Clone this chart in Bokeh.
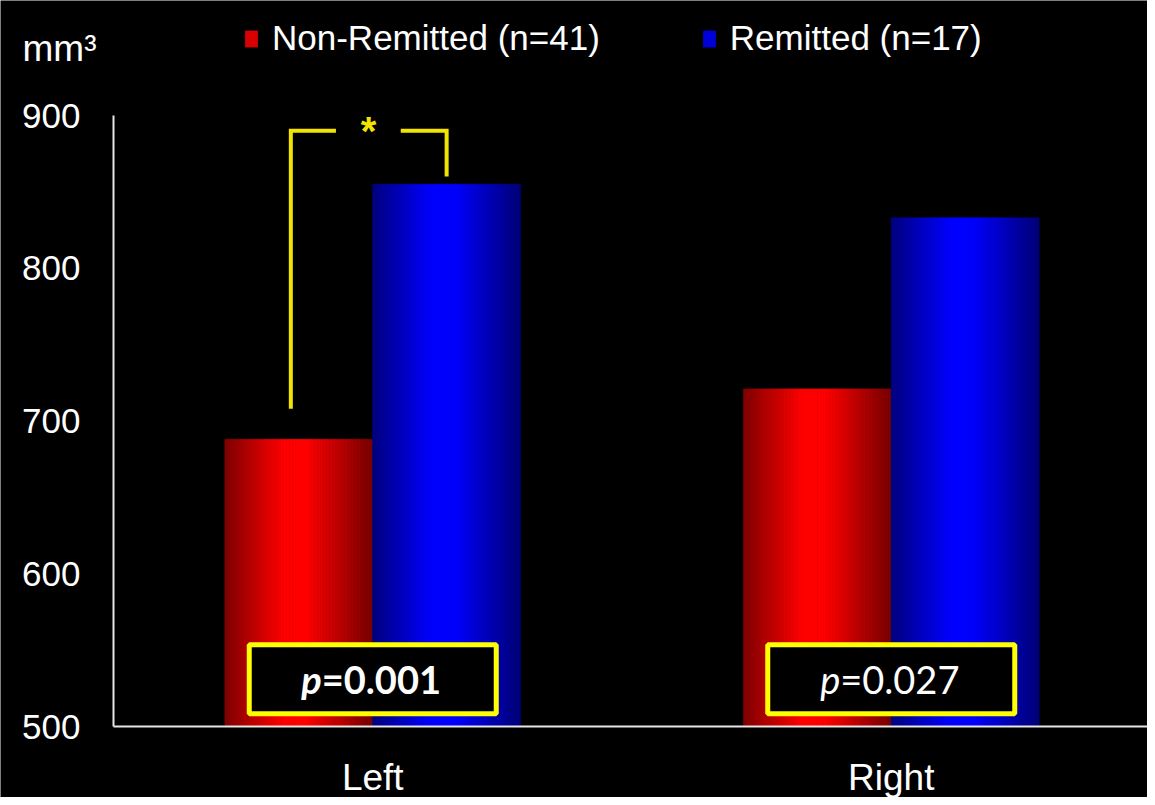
import numpy as np
from bokeh.plotting import figure
from bokeh.models import Range1d, Legend, LegendItem, Label, FixedTicker
from bokeh.core.properties import value
from bokeh.embed import file_html
from bokeh.resources import INLINE

# ---- data ----
categories = ["Left", "Right"]
series_names = ["Non-Remitted (n=41)", "Remitted (n=17)"]
non_remitted = [688, 721]
remitted = [855, 833]
p_values = ["0.001", "0.027"]
p_bold = [True, False]
y_ticks = [500, 600, 700, 800, 900]
unit_label = "mm\u00b3"

# ---- layout geometry (pixels inside the figure) ----
W, H = 1147, 797
axis_x_px = 113          # where the value axis sits
cat_px = 518.5           # pixels per category
base_px = 726            # y pixel of 500
top_px = 115             # y pixel of 900
ppu = (base_px - top_px) / (y_ticks[-1] - y_ticks[0])

x0 = -axis_x_px / cat_px
x1 = (W - axis_x_px) / cat_px
y0 = y_ticks[0] - (H - base_px) / ppu
y1 = y_ticks[-1] + top_px / ppu

p = figure(x_range=Range1d(x0, x1), y_range=Range1d(y0, y1),
           width=W, height=H, output_backend="svg", toolbar_location=None,
           background_fill_color="black", border_fill_color="black",
           min_border_left=0, min_border_right=0, min_border_top=0,
           min_border_bottom=0)
p.outline_line_color = None
p.grid.visible = False

# ---- gradient bars drawn as thin strips ----
N = 48
bar_w = 0.285
t = (np.arange(N) + 0.5) / N
bright = np.interp(t, [0, 0.4, 0.55, 1.0], [0.5, 1.0, 1.0, 0.47])

def strips(vals, offset, rgb):
    xs, tops, cols = [], [], []
    for i, v in enumerate(vals):
        c = i + 0.5 + offset
        for k in range(N):
            xs.append(c - bar_w / 2 + t[k] * bar_w)
            tops.append(v)
            b = bright[k]
            cols.append("#%02x%02x%02x" % tuple(int(round(255 * b * ch)) for ch in rgb))
    return xs, tops, cols

for vals, off, rgb in [(non_remitted, -bar_w / 2, (1, 0, 0)), (remitted, bar_w / 2, (0, 0, 1))]:
    xs, tops, cols = strips(vals, off, rgb)
    p.vbar(x=xs, top=tops, bottom=y_ticks[0], width=bar_w / N * 1.05,
           fill_color=cols, line_color=cols, line_width=0.6)

# legend swatches (zero-height bars carry the colours)
r1 = p.vbar(x=[0.5], top=[y_ticks[0]], bottom=y_ticks[0], width=0.01,
            fill_color="#d80000", line_color=None)
r2 = p.vbar(x=[0.5], top=[y_ticks[0]], bottom=y_ticks[0], width=0.01,
            fill_color="#0000d8", line_color=None)
legend = Legend(items=[LegendItem(label=series_names[0], renderers=[r1]),
                       LegendItem(label=series_names[1], renderers=[r2])],
                orientation="horizontal", location=(243, H - 58),
                glyph_width=16, glyph_height=21, label_standoff=13, spacing=101,
                padding=0, margin=0,
                label_text_font="Liberation Sans", label_text_font_size="35px",
                label_text_color="white",
                background_fill_alpha=0, border_line_alpha=0)
p.add_layout(legend, "center")

# ---- significance bracket ----
c0 = 0.5
bracket_top, left_foot, right_foot = 890, 708, 860
bcol = "#f2e400"
p.line(x=[c0 - 0.158, c0 - 0.158, c0 - 0.071], y=[left_foot, bracket_top, bracket_top],
       line_color=bcol, line_width=4, line_join="miter", line_cap="butt")
p.line(x=[c0 + 0.054, c0 + bar_w / 2, c0 + bar_w / 2], y=[bracket_top, bracket_top, right_foot],
       line_color=bcol, line_width=4, line_join="miter", line_cap="butt")
p.text(x=[c0 - 0.008], y=[890], text=["*"], text_color=bcol,
       text_font=value("Liberation Sans"), text_font_size="40px", text_font_style="bold",
       text_align="center", text_baseline="alphabetic")

# ---- p-value boxes ----
box_y = 531
p.rect(x=[i + 0.5 for i in range(len(categories))], y=[box_y] * len(categories),
       width=247, height=69, width_units="screen", height_units="screen",
       fill_color="black", line_color="#ffff00", line_width=5)
for i, (pv, bold) in enumerate(zip(p_values, p_bold)):
    style = "bold" if bold else "normal"
    p.text(x=[i + 0.5], y=[box_y], text=["p"], x_offset=-51,
           text_color="white", text_font=value("Lato"), text_font_size="38px",
           text_font_style="bold italic" if bold else "italic",
           text_align="right", text_baseline="middle")
    p.text(x=[i + 0.5], y=[box_y], text=["=" + pv], x_offset=-51,
           text_color="white", text_font=value("Lato"), text_font_size="38px",
           text_font_style=style, text_align="left", text_baseline="middle")

# ---- axes ----
for ax in (p.xaxis[0], p.yaxis[0]):
    ax.axis_line_color = "#e6e6e6"
    ax.axis_line_width = 2
    ax.major_tick_line_color = None
    ax.minor_tick_line_color = None
    ax.major_tick_in = 0
    ax.major_tick_out = 0
    ax.major_label_text_color = "white"
    ax.major_label_text_font = "Liberation Sans"
p.xaxis.ticker = FixedTicker(ticks=[i + 0.5 for i in range(len(categories))])
p.xaxis.major_label_overrides = {i + 0.5: c for i, c in enumerate(categories)}
p.xaxis.bounds = (0, len(categories))
p.xaxis.fixed_location = y_ticks[0]
p.xaxis.major_label_text_font_size = "37px"
p.xaxis.major_label_standoff = 30

p.yaxis.ticker = FixedTicker(ticks=y_ticks)
p.yaxis.bounds = (y_ticks[0], y_ticks[-1])
p.yaxis.fixed_location = 0
p.yaxis.major_label_text_font_size = "35px"
p.yaxis.major_label_standoff = 33

p.add_layout(Label(x=22, y=H - 48, x_units="screen", y_units="screen", text=unit_label,
                   text_color="white", text_font="Liberation Sans", text_font_size="37px",
                   text_baseline="alphabetic"))

open("out.html", "w").write(file_html(p, INLINE))
